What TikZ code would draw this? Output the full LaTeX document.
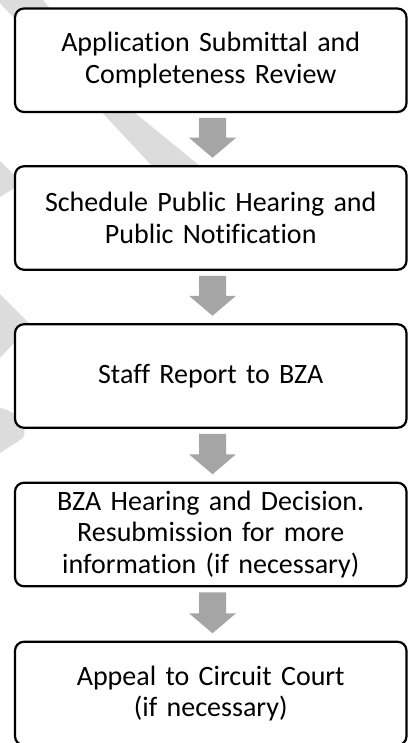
\documentclass[tikz,border=0pt]{standalone}
\usepackage{fontspec}
\setmainfont[Ligatures=NoCommon]{Carlito}
\usetikzlibrary{calc}
\definecolor{wmgray}{HTML}{DCDCDC}
\definecolor{arrgray}{HTML}{A5A5A5}
\newcommand\flowarr[2]{%
  \fill[arrgray] let \p1=(#1.south), \p2=(#2.north) in
    (\x1-11.75pt,\y1-6pt) -- (\x1+15.25pt,\y1-6pt) -- (\x1+15.25pt,\y2+28.5pt)
    -- (\x1+25.25pt,\y2+28.5pt) -- (\x1+1.75pt,\y2+8.5pt) -- (\x1-21.75pt,\y2+28.5pt)
    -- (\x1-11.75pt,\y2+28.5pt) -- cycle;}
\begin{document}
\begin{tikzpicture}[x=1pt,y=-1pt,
  stepbox/.style={draw=black, line width=2.2pt, rounded corners=9pt, fill=white,
    minimum width=391.5pt, minimum height=103.5pt, outer sep=0pt, inner sep=0pt,
    align=center, text width=385pt, font=\fontsize{28}{31.5}\selectfont},
  wmark/.style={fill=wmgray, draw=none}]
\useasboundingbox (0,0) rectangle (408,743);
\fill[white] (0,0) rectangle (408,743);
% watermark fragments
\fill[wmark] (-3,0) -- (43,0) -- (135,113) -- (200,166) -- (152,166) -- cycle;
\fill[wmark] (0,161) -- (22,183) -- (0,197) -- cycle;
\fill[wmark] (0,294) -- (31,325) -- (0,358) -- cycle;
\fill[wmark] (0,408) .. controls (20,412) and (28,428) .. (23,438) -- (0,453) -- cycle;
% boxes
\node[stepbox] (b1) at (210.75,60.25) {Application Submittal and\\Completeness Review};
\node[stepbox] (b2) at (210.75,218) {Schedule Public Hearing and\\Public Notification};
\node[stepbox] (b3) at (210.75,376) {Staff Report to BZA};
\node[stepbox] (b4) at (210.75,534.5) {BZA Hearing and Decision.\\Resubmission for more\\information (if necessary)};
\node[stepbox] (b5) at (210.75,693.5) {Appeal to Circuit Court\\(if necessary)};
% arrows
\flowarr{b1}{b2}
\flowarr{b2}{b3}
\flowarr{b3}{b4}
\flowarr{b4}{b5}
\end{tikzpicture}
\end{document}
